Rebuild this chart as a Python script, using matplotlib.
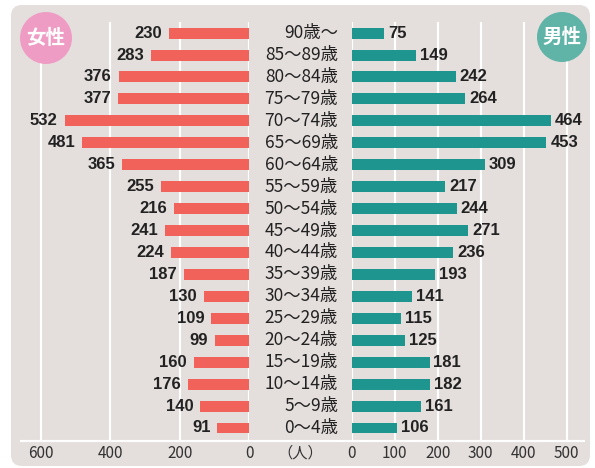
import matplotlib
matplotlib.use("Agg")
import matplotlib.pyplot as plt
from matplotlib.patches import FancyBboxPatch, Circle

plt.rcParams['font.family'] = ['Noto Sans CJK JP', 'DejaVu Sans']

ages = ["90歳〜", "85〜89歳", "80〜84歳", "75〜79歳", "70〜74歳", "65〜69歳",
        "60〜64歳", "55〜59歳", "50〜54歳", "45〜49歳", "40〜44歳", "35〜39歳",
        "30〜34歳", "25〜29歳", "20〜24歳", "15〜19歳", "10〜14歳", "5〜9歳",
        "0〜4歳"]
female = [230, 283, 376, 377, 532, 481, 365, 255, 216, 241, 224, 187,
          130, 109, 99, 160, 176, 140, 91]
male = [75, 149, 242, 264, 464, 453, 309, 217, 244, 271, 236, 193,
        141, 115, 125, 181, 182, 161, 106]
female_ticks = [600, 400, 200, 0]
male_ticks = [0, 100, 200, 300, 400, 500]

W, H = 595, 468
c_female = "#f0625a"
c_male = "#1f9590"
c_bg = "#e4dedc"
c_text = "#222222"
num_font = ["Liberation Sans", "DejaVu Sans"]

fig = plt.figure(figsize=(W / 100, H / 100), dpi=100)
fig.patch.set_facecolor("white")


def px_axes(x0, y0, x1, y1, **kw):
    # pixel box (top-left origin) -> figure axes
    return fig.add_axes([x0 / W, 1 - y1 / H, (x1 - x0) / W, (y1 - y0) / H], **kw)


# background layer
bg = px_axes(0, 0, W, H, zorder=0)
bg.set_xlim(0, W)
bg.set_ylim(H, 0)
bg.axis("off")
bg.add_patch(FancyBboxPatch((11, 5), 579, 461, boxstyle="round,pad=0,rounding_size=11",
                            fc=c_bg, ec="none"))
bg.plot([20, 585], [441, 441], color="white", lw=1.6, solid_capstyle="butt")

top_y, axis_y = 22, 441
row0, step = 428, 21.94
n = len(ages)
ypos = list(range(n - 1, -1, -1))
ylim = (-(axis_y - row0) / step, (n - 1) + (row0 - (n - 1) * step - top_y) / step)
tick_y = -(453 - row0) / step

# female (left)
axl = px_axes(20, top_y, 249, axis_y, zorder=1)
axl.set_xlim((249 - 20) / 0.3467, 0)
axl.set_ylim(*ylim)
axl.patch.set_alpha(0)
for s in axl.spines.values():
    s.set_visible(False)
axl.set_xticks([])
axl.set_yticks([])
for t in female_ticks:
    axl.axvline(t, color="white", lw=1.6, zorder=0)
axl.barh(ypos, female, height=0.5, color=c_female, zorder=2)
for y, v in zip(ypos, female):
    axl.text(v + 20, y, str(v), ha="right", va="center", fontsize=12,
             fontweight="bold", color=c_text, family=num_font)
for t in female_ticks:
    axl.text(t, tick_y, str(t), ha="center", va="center", fontsize=11,
             color="#333333", clip_on=False)

# male (right)
axr = px_axes(351.7, top_y, 585, axis_y, zorder=1)
axr.set_xlim(0, (585 - 351.7) / 0.43)
axr.set_ylim(*ylim)
axr.patch.set_alpha(0)
for s in axr.spines.values():
    s.set_visible(False)
axr.set_xticks([])
axr.set_yticks([])
for t in male_ticks:
    axr.axvline(t, color="white", lw=1.6, zorder=0)
axr.barh(ypos, male, height=0.5, color=c_male, zorder=2)
for y, v in zip(ypos, male):
    axr.text(v + 9, y, str(v), ha="left", va="center", fontsize=12,
             fontweight="bold", color=c_text, family=num_font)
for t in male_ticks:
    axr.text(t, tick_y, str(t), ha="center", va="center", fontsize=11,
             color="#333333", clip_on=False)

# overlay: age labels and badges
ov = px_axes(0, 0, W, H, zorder=3)
ov.set_xlim(0, W)
ov.set_ylim(H, 0)
ov.axis("off")
for i, a in enumerate(ages):
    ov.text(338, row0 - (n - 1 - i) * step, a, ha="right", va="center",
            fontsize=12.5, color=c_text)
ov.text(300, 453, "（人）", ha="center", va="center", fontsize=11, color="#333333")

ov.add_patch(Circle((46, 38), 26, fc="#ef9cc4", ec="none"))
ov.text(46, 38, "女性", ha="center", va="center", fontsize=14, fontweight="bold",
        color="white")
ov.add_patch(Circle((562, 37), 25, fc="#5fb3a7", ec="none"))
ov.text(562, 37, "男性", ha="center", va="center", fontsize=14, fontweight="bold",
        color="white")

fig.savefig("out.png", dpi=100)
